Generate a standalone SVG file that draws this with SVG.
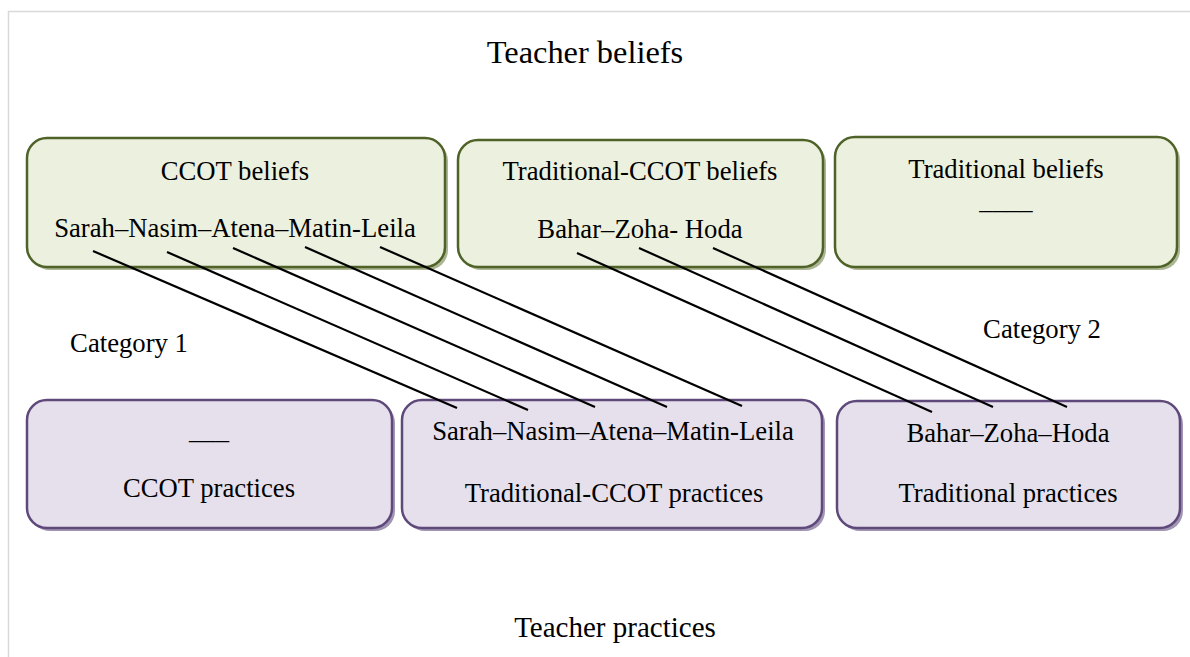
<svg xmlns="http://www.w3.org/2000/svg" width="1190" height="657" viewBox="0 0 1190 657">
<style>
text{font-family:"Liberation Serif","Times New Roman",serif;fill:#000;text-anchor:middle}
.t{font-size:26.7px}
.h{font-size:32.4px}
.h2{font-size:29px}
.g{fill:#ebf1de;stroke:#4f6228;stroke-width:2.5}
.gs{fill:#7f8f5c;opacity:0.65}
.p{fill:#e5e0ec;stroke:#5f497a;stroke-width:2.5}
.ps{fill:#6f5d8a;opacity:0.65}
.c{stroke:#000;stroke-width:2.2;fill:none}
</style>
<rect width="1190" height="657" fill="#fff"/>
<path d="M8.5,657 V11.5 H1190" fill="none" stroke="#d9d9d9" stroke-width="1.5"/>
<text class="h" x="585" y="63">Teacher beliefs</text>
<text class="h2" x="615" y="637">Teacher practices</text>
<text class="t" x="129" y="352">Category 1</text>
<text class="t" x="1042" y="338">Category 2</text>
<g id="ccot-beliefs">
<rect class="gs" x="30" y="141" width="418" height="129" rx="20"/>
<rect class="g" x="27" y="138" width="418" height="129" rx="20"/>
<text class="t" x="235" y="180">CCOT beliefs</text>
<text class="t" x="235" y="237">Sarah–Nasim–Atena–Matin-Leila</text>
</g>
<g id="trad-ccot-beliefs">
<rect class="gs" x="461" y="143" width="365" height="127" rx="20"/>
<rect class="g" x="458" y="140" width="365" height="127" rx="20"/>
<text class="t" x="640" y="180">Traditional-CCOT beliefs</text>
<text class="t" x="640" y="238">Bahar–Zoha- Hoda</text>
</g>
<g id="trad-beliefs">
<rect class="gs" x="838" y="140" width="342" height="130" rx="20"/>
<rect class="g" x="835" y="137" width="342" height="130" rx="20"/>
<text class="t" x="1006" y="178">Traditional beliefs</text>
<text class="t" x="1006" y="209">____</text>
</g>
<g id="ccot-practices">
<rect class="ps" x="30" y="403" width="365" height="128" rx="20"/>
<rect class="p" x="27" y="400" width="365" height="128" rx="20"/>
<text class="t" x="209" y="439">___</text>
<text class="t" x="209" y="497">CCOT practices</text>
</g>
<g id="trad-ccot-practices">
<rect class="ps" x="405" y="403" width="420" height="128" rx="20"/>
<rect class="p" x="402" y="400" width="420" height="128" rx="20"/>
<text class="t" x="613" y="440">Sarah–Nasim–Atena–Matin-Leila</text>
<text class="t" x="614" y="502">Traditional-CCOT practices</text>
</g>
<g id="trad-practices">
<rect class="ps" x="840" y="404" width="343" height="127" rx="20"/>
<rect class="p" x="837" y="401" width="343" height="127" rx="20"/>
<text class="t" x="1008" y="442">Bahar–Zoha–Hoda</text>
<text class="t" x="1008" y="502">Traditional practices</text>
</g>
<g id="connectors">
<line class="c" x1="93" y1="251" x2="457" y2="408"/>
<line class="c" x1="167" y1="252" x2="528" y2="410"/>
<line class="c" x1="233" y1="248" x2="595" y2="407"/>
<line class="c" x1="305" y1="247" x2="667" y2="407"/>
<line class="c" x1="380" y1="247" x2="742" y2="406"/>
<line class="c" x1="577" y1="253" x2="932" y2="412"/>
<line class="c" x1="639" y1="248" x2="993" y2="407"/>
<line class="c" x1="713" y1="248" x2="1067" y2="407"/>
</g>
</svg>
